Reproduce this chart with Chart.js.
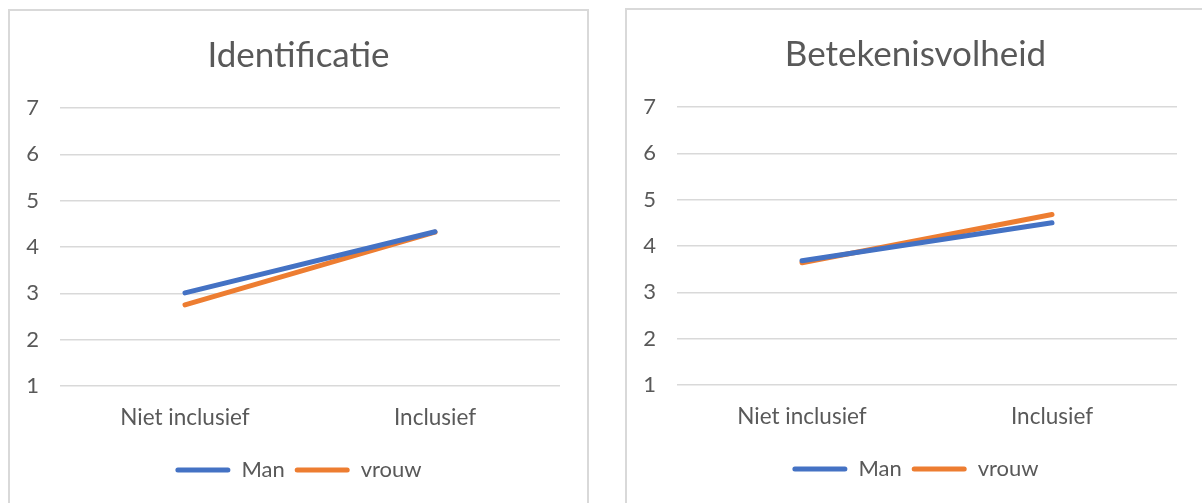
<!DOCTYPE html>
<html>
<head>
<meta charset="utf-8">
<script src="https://cdn.jsdelivr.net/npm/chart.js@4"></script>
<style>
  body { margin:0; background:#fff; width:1202px; height:503px; overflow:hidden; position:relative; }
  .panel { position:absolute; width:577px; height:520px; border:2px solid #d9d9d9; background:#fff; }
  .panel canvas { position:absolute; left:0; top:0; }
</style>
</head>
<body>
<div class="panel" style="left:8px;top:9px;"><canvas id="chartIdent" width="577" height="493"></canvas></div>
<div class="panel" style="left:625px;top:8px;"><canvas id="chartBetek" width="577" height="493"></canvas></div>
<script>
// Data
const categories = ["Niet inclusief", "Inclusief"];
const seriesNames = ["Man", "vrouw"];
const identMan   = [3.01, 4.33];
const identVrouw = [2.75, 4.32];
const betekMan   = [3.68, 4.50];
const betekVrouw = [3.64, 4.68];
const yMin = 1, yMax = 7, yStep = 1;

const colors = ["#4472C4", "#ED7D31"];
const textColor = "#595959";
const fontFamily = "Lato, 'Open Sans', sans-serif";

function makeChart(id, title, man, vrouw) {
  const ctx = document.getElementById(id).getContext("2d");
  return new Chart(ctx, {
    type: "line",
    data: {
      labels: categories,
      datasets: [man, vrouw].map((d, i) => ({
        label: seriesNames[i],
        data: d,
        borderColor: colors[i],
        backgroundColor: colors[i],
        borderWidth: 5,
        borderCapStyle: "round",
        pointRadius: 0,
        tension: 0
      }))
    },
    options: {
      responsive: false,
      animation: false,
      layout: { padding: { top: 0, right: 0, bottom: 13, left: 0 } },
      plugins: {
        title: {
          display: true, text: title, color: textColor,
          font: { family: fontFamily, size: 35, weight: "normal", lineHeight: 1.2 },
          padding: { top: 24, bottom: 31 }
        },
        legend: {
          position: "bottom",
          labels: {
            color: textColor,
            font: { family: fontFamily, size: 22 },
            boxWidth: 55, boxHeight: 5,
            useBorderRadius: true, borderRadius: 2.5,
            padding: 10,
            generateLabels: chart => Chart.defaults.plugins.legend.labels.generateLabels(chart)
              .map(l => Object.assign(l, { lineWidth: 0 }))
          }
        },
        tooltip: { enabled: false }
      },
      scales: {
        x: {
          offset: true,
          grid: { display: false },
          border: { display: false },
          ticks: { color: textColor, font: { family: fontFamily, size: 22.5 }, padding: 10 },
          afterFit: s => { s.height = 63; }
        },
        y: {
          min: yMin, max: yMax,
          grid: { color: "#d9d9d9", lineWidth: 1.5, drawTicks: false },
          border: { display: false },
          ticks: { stepSize: yStep, color: textColor, font: { family: fontFamily, size: 22 }, padding: 21 },
          afterFit: s => { s.width = 50; }
        },
        // empty right axis: keeps the plot clear of the right edge
        yRight: {
          position: "right",
          min: yMin, max: yMax,
          grid: { display: false },
          border: { display: false },
          ticks: { display: false },
          afterFit: s => { s.width = 27; }
        }
      }
    }
  });
}

makeChart("chartIdent", "Identificatie", identMan, identVrouw);
makeChart("chartBetek", "Betekenisvolheid", betekMan, betekVrouw);
</script>
</body>
</html>
